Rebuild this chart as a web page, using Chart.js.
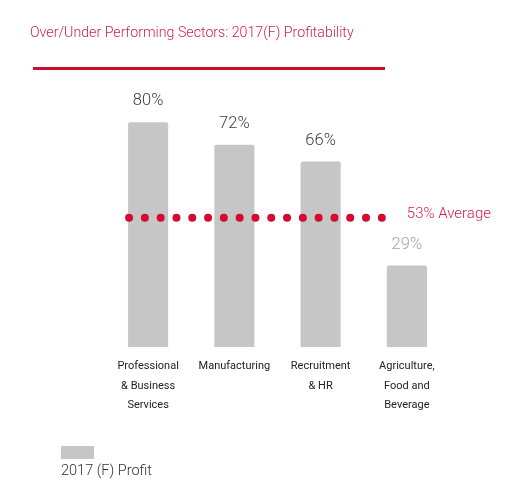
<!DOCTYPE html>
<html>
<head>
<meta charset="utf-8">
<script src="https://cdn.jsdelivr.net/npm/chart.js@4"></script>
<style>
    html, body { margin: 0; padding: 0; background: #fff; }
    #wrap { position: relative; width: 522px; height: 500px; overflow: hidden; font-family: Roboto, "Open Sans", sans-serif; }
    #chart { position: absolute; left: 0; top: 0; }
    .title { position: absolute; left: 30px; top: 24px; font-size: 14.2px; font-weight: 300; color: #d21f47; white-space: nowrap; }
    .rule { position: absolute; left: 33px; top: 67px; width: 352px; height: 3px; background: #c8102e; }
    .legend-box { position: absolute; left: 61px; top: 446px; width: 33px; height: 13px; background: #c6c6c6; }
    .legend-text { position: absolute; left: 61px; top: 462px; font-size: 14.5px; font-weight: 300; color: #333; white-space: nowrap; }
</style>
</head>
<body>
<div id="wrap">
    <canvas id="chart" width="522" height="500"></canvas>
    <div class="title">Over/Under Performing Sectors: 2017(F) Profitability</div>
    <div class="rule"></div>
    <div class="legend-box"></div>
    <div class="legend-text">2017 (F) Profit</div>
</div>
<script>
// Chart data
const sectors = [
    ['Professional', '& Business', 'Services'],
    'Manufacturing',
    ['Recruitment', '& HR'],
    ['Agriculture,', 'Food and', 'Beverage']
];
const profit = [80, 72, 66, 29];
const seriesName = '2017 (F) Profit';
const averageValue = 53;   // value written in the label
const averageLineAt = 46;  // where the dotted line actually sits in the source picture

// value labels above the bars + the dotted average line
const overlayPlugin = {
    id: 'overlay',
    afterDatasetsDraw: function(chart) {
        const ctx = chart.ctx;
        const bars = chart.getDatasetMeta(0).data;
        const yScale = chart.scales.y;

        ctx.save();
        ctx.font = '300 16.5px Roboto, sans-serif';
        ctx.textAlign = 'center';
        ctx.textBaseline = 'middle';
        bars.forEach((bar, i) => {
            ctx.fillStyle = profit[i] < averageValue ? '#a3a3a3' : '#3c3c3c';
            ctx.fillText(profit[i] + '%', bar.x, bar.y - 21);
        });

        // dotted average line
        const lineY = yScale.getPixelForValue(averageLineAt);
        const startX = bars[0].x - bars[0].width / 2 + 1;
        const last = bars[bars.length - 1];
        const endX = last.x - last.width / 2 - 5;
        const n = Math.round((endX - startX) / 16) + 1;
        const step = (endX - startX) / (n - 1);
        ctx.fillStyle = '#d50a30';
        for (let i = 0; i < n; i++) {
            ctx.beginPath();
            ctx.arc(startX + i * step, lineY, 4, 0, Math.PI * 2);
            ctx.fill();
        }
        ctx.font = '300 15px Roboto, sans-serif';
        ctx.fillStyle = '#d6204c';
        ctx.textAlign = 'left';
        ctx.fillText(averageValue + '% Average', endX + 25, lineY - 3);
        ctx.restore();
    }
};

new Chart(document.getElementById('chart'), {
    type: 'bar',
    data: {
        labels: sectors,
        datasets: [{
            label: seriesName,
            data: profit,
            backgroundColor: '#c6c6c6',
            borderRadius: { topLeft: 2, topRight: 2 },
            borderSkipped: 'bottom',
            barPercentage: 0.93,
            categoryPercentage: 0.5
        }]
    },
    options: {
        responsive: false,
        animation: false,
        devicePixelRatio: 1,
        layout: {
            padding: { left: 105, right: 72, top: 66, bottom: 0 }
        },
        plugins: {
            legend: { display: false },
            title: { display: false },
            tooltip: { enabled: false }
        },
        scales: {
            x: {
                grid: { display: false, drawTicks: false },
                border: { display: false },
                ticks: {
                    color: '#222',
                    padding: 10,
                    font: { family: 'Roboto', size: 11, lineHeight: 1.75 },
                    maxRotation: 0,
                    autoSkip: false
                },
                afterFit: function(scale) { scale.height = 153; }
            },
            y: {
                display: false,
                min: 0,
                max: 100
            }
        }
    },
    plugins: [overlayPlugin]
});
</script>
</body>
</html>
